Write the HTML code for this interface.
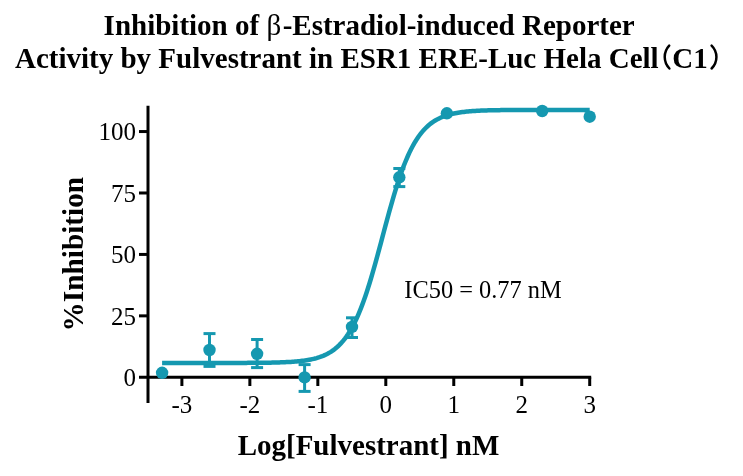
<!DOCTYPE html>
<html><head><meta charset="utf-8"><style>
html,body{margin:0;padding:0;background:#fff;width:743px;height:476px;overflow:hidden}
svg{display:block;will-change:transform}
text{font-family:"Liberation Serif",serif}
</style></head><body>
<svg width="743" height="476" viewBox="0 0 743 476">
<g stroke="#000" stroke-width="3" fill="none">
<line x1="148" y1="105.8" x2="148" y2="403"/>
<line x1="139" y1="377.3" x2="591.2" y2="377.3"/>
<line x1="139" y1="315.86" x2="148" y2="315.86"/>
<line x1="139" y1="254.43" x2="148" y2="254.43"/>
<line x1="139" y1="192.99" x2="148" y2="192.99"/>
<line x1="139" y1="131.55" x2="148" y2="131.55"/>
<line x1="181.89" y1="377.3" x2="181.89" y2="386"/>
<line x1="249.86" y1="377.3" x2="249.86" y2="386"/>
<line x1="317.83" y1="377.3" x2="317.83" y2="386"/>
<line x1="385.80" y1="377.3" x2="385.80" y2="386"/>
<line x1="453.77" y1="377.3" x2="453.77" y2="386"/>
<line x1="521.74" y1="377.3" x2="521.74" y2="386"/>
<line x1="589.71" y1="377.3" x2="589.71" y2="386"/>
</g>
<g font-family="Liberation Serif" font-size="25" fill="#000">
<text x="136" y="386.20" text-anchor="end">0</text>
<text x="136" y="324.76" text-anchor="end">25</text>
<text x="136" y="263.32" text-anchor="end">50</text>
<text x="136" y="201.89" text-anchor="end">75</text>
<text x="136" y="140.45" text-anchor="end">100</text>
<text x="181.89" y="412.8" text-anchor="middle">-3</text>
<text x="249.86" y="412.8" text-anchor="middle">-2</text>
<text x="317.83" y="412.8" text-anchor="middle">-1</text>
<text x="385.80" y="412.8" text-anchor="middle">0</text>
<text x="453.77" y="412.8" text-anchor="middle">1</text>
<text x="521.74" y="412.8" text-anchor="middle">2</text>
<text x="589.71" y="412.8" text-anchor="middle">3</text>
</g>
<polyline points="162.10,362.96 163.53,362.96 164.96,362.96 166.39,362.96 167.82,362.96 169.25,362.96 170.68,362.96 172.11,362.96 173.54,362.96 174.97,362.96 176.40,362.96 177.83,362.96 179.26,362.96 180.69,362.96 182.12,362.96 183.55,362.96 184.98,362.96 186.41,362.96 187.84,362.96 189.27,362.95 190.70,362.95 192.13,362.95 193.56,362.95 194.99,362.95 196.42,362.95 197.85,362.95 199.28,362.95 200.71,362.95 202.14,362.95 203.57,362.95 205.00,362.95 206.43,362.95 207.86,362.95 209.29,362.95 210.72,362.95 212.15,362.95 213.58,362.95 215.01,362.95 216.44,362.94 217.87,362.94 219.30,362.94 220.73,362.94 222.16,362.94 223.59,362.94 225.02,362.94 226.45,362.93 227.88,362.93 229.31,362.93 230.74,362.93 232.17,362.92 233.61,362.92 235.04,362.92 236.47,362.91 237.90,362.91 239.33,362.91 240.76,362.90 242.19,362.90 243.62,362.89 245.05,362.89 246.48,362.88 247.91,362.87 249.34,362.87 250.77,362.86 252.20,362.85 253.63,362.84 255.06,362.83 256.49,362.82 257.92,362.80 259.35,362.79 260.78,362.78 262.21,362.76 263.64,362.74 265.07,362.72 266.50,362.70 267.93,362.68 269.36,362.66 270.79,362.63 272.22,362.60 273.65,362.57 275.08,362.53 276.51,362.50 277.94,362.46 279.37,362.41 280.80,362.36 282.23,362.31 283.66,362.25 285.09,362.19 286.52,362.12 287.95,362.05 289.38,361.97 290.81,361.88 292.24,361.79 293.67,361.69 295.10,361.57 296.53,361.45 297.96,361.32 299.39,361.17 300.82,361.02 302.25,360.85 303.68,360.66 305.11,360.46 306.54,360.24 307.97,360.00 309.40,359.74 310.83,359.46 312.26,359.15 313.69,358.82 315.12,358.46 316.55,358.07 317.98,357.64 319.41,357.18 320.84,356.68 322.27,356.14 323.70,355.56 325.13,354.92 326.56,354.23 327.99,353.48 329.42,352.68 330.85,351.81 332.28,350.86 333.71,349.85 335.14,348.75 336.57,347.56 338.00,346.29 339.43,344.91 340.86,343.43 342.29,341.85 343.72,340.14 345.15,338.31 346.58,336.36 348.01,334.26 349.44,332.03 350.87,329.64 352.30,327.11 353.73,324.41 355.16,321.55 356.59,318.52 358.02,315.31 359.45,311.94 360.88,308.39 362.31,304.66 363.74,300.76 365.17,296.68 366.60,292.44 368.03,288.03 369.46,283.47 370.89,278.76 372.32,273.92 373.75,268.95 375.18,263.88 376.62,258.71 378.05,253.46 379.48,248.15 380.91,242.80 382.34,237.42 383.77,232.04 385.20,226.68 386.63,221.35 388.06,216.08 389.49,210.88 390.92,205.77 392.35,200.76 393.78,195.87 395.21,191.11 396.64,186.49 398.07,182.03 399.50,177.72 400.93,173.58 402.36,169.62 403.79,165.82 405.22,162.21 406.65,158.77 408.08,155.50 409.51,152.41 410.94,149.48 412.37,146.73 413.80,144.13 415.23,141.69 416.66,139.40 418.09,137.26 419.52,135.25 420.95,133.37 422.38,131.62 423.81,129.99 425.24,128.48 426.67,127.06 428.10,125.75 429.53,124.53 430.96,123.40 432.39,122.36 433.82,121.39 435.25,120.49 436.68,119.66 438.11,118.89 439.54,118.18 440.97,117.53 442.40,116.92 443.83,116.36 445.26,115.85 446.69,115.37 448.12,114.94 449.55,114.53 450.98,114.16 452.41,113.82 453.84,113.50 455.27,113.21 456.70,112.95 458.13,112.70 459.56,112.47 460.99,112.27 462.42,112.07 463.85,111.90 465.28,111.74 466.71,111.59 468.14,111.45 469.57,111.32 471.00,111.21 472.43,111.10 473.86,111.00 475.29,110.91 476.72,110.83 478.15,110.76 479.58,110.69 481.01,110.62 482.44,110.56 483.87,110.51 485.30,110.46 486.73,110.41 488.16,110.37 489.59,110.33 491.02,110.30 492.45,110.26 493.88,110.23 495.31,110.21 496.74,110.18 498.17,110.16 499.60,110.14 501.03,110.12 502.46,110.10 503.89,110.08 505.32,110.07 506.75,110.05 508.18,110.04 509.61,110.03 511.04,110.02 512.47,110.01 513.90,110.00 515.33,109.99 516.76,109.98 518.19,109.98 519.63,109.97 521.06,109.96 522.49,109.96 523.92,109.95 525.35,109.95 526.78,109.94 528.21,109.94 529.64,109.94 531.07,109.93 532.50,109.93 533.93,109.93 535.36,109.92 536.79,109.92 538.22,109.92 539.65,109.92 541.08,109.92 542.51,109.91 543.94,109.91 545.37,109.91 546.80,109.91 548.23,109.91 549.66,109.91 551.09,109.91 552.52,109.91 553.95,109.91 555.38,109.90 556.81,109.90 558.24,109.90 559.67,109.90 561.10,109.90 562.53,109.90 563.96,109.90 565.39,109.90 566.82,109.90 568.25,109.90 569.68,109.90 571.11,109.90 572.54,109.90 573.97,109.90 575.40,109.90 576.83,109.90 578.26,109.90 579.69,109.90 581.12,109.90 582.55,109.90 583.98,109.90 585.41,109.90 586.84,109.90 588.27,109.90 589.70,109.90" fill="none" stroke="#1598b0" stroke-width="4.5"/>
<g stroke="#1598b0" stroke-width="3" fill="none">
<line x1="209.50" y1="333.60" x2="209.50" y2="366.40"/>
<line x1="203.50" y1="333.60" x2="215.50" y2="333.60"/>
<line x1="203.50" y1="366.40" x2="215.50" y2="366.40"/>
<line x1="257.10" y1="339.50" x2="257.10" y2="367.60"/>
<line x1="251.10" y1="339.50" x2="263.10" y2="339.50"/>
<line x1="251.10" y1="367.60" x2="263.10" y2="367.60"/>
<line x1="304.60" y1="364.60" x2="304.60" y2="391.40"/>
<line x1="298.60" y1="364.60" x2="310.60" y2="364.60"/>
<line x1="298.60" y1="391.40" x2="310.60" y2="391.40"/>
<line x1="352.00" y1="317.80" x2="352.00" y2="337.50"/>
<line x1="346.00" y1="317.80" x2="358.00" y2="317.80"/>
<line x1="346.00" y1="337.50" x2="358.00" y2="337.50"/>
<line x1="399.30" y1="168.50" x2="399.30" y2="186.60"/>
<line x1="393.30" y1="168.50" x2="405.30" y2="168.50"/>
<line x1="393.30" y1="186.60" x2="405.30" y2="186.60"/>
</g>
<g fill="#1598b0">
<circle cx="162.10" cy="372.80" r="6.2"/>
<circle cx="209.50" cy="350.00" r="6.2"/>
<circle cx="257.10" cy="353.80" r="6.2"/>
<circle cx="304.60" cy="377.40" r="6.2"/>
<circle cx="352.00" cy="326.90" r="6.2"/>
<circle cx="399.30" cy="177.30" r="6.2"/>
<circle cx="446.90" cy="113.30" r="6.2"/>
<circle cx="542.20" cy="111.00" r="6.2"/>
<circle cx="589.70" cy="116.70" r="6.2"/>
</g>
<text x="404.3" y="297.6" font-family="Liberation Serif" font-size="24.4">IC50 = 0.77 nM</text>
<text transform="translate(368.5,455.2) scale(1,1.05)" text-anchor="middle" font-family="Liberation Serif" font-weight="bold" font-size="29">Log[Fulvestrant] nM</text>
<text transform="translate(83.3,254.2) rotate(-90)" text-anchor="middle" font-family="Liberation Serif" font-weight="bold" font-size="29.3">%Inhibition</text>
<g font-family="Liberation Serif" font-weight="bold" font-size="29" fill="#000">
<text x="103.6" y="34.8">Inhibition of <tspan font-weight="normal">β</tspan><tspan dx="1.5">-Estradiol-induced Reporter</tspan></text>
<text x="15" y="67.9">Activity by Fulvestrant in ESR1 ERE-Luc Hela Cell</text>
<text x="672.3" y="67.9">C1</text>
</g>
<g fill="none" stroke="#000" stroke-width="2.5" stroke-linecap="round">
<path d="M669.2,45.6 A16.6,16.6 0 0 0 669.4,68.5"/>
<path d="M711.6,45.6 A16,16 0 0 1 711.6,68.5"/>
</g>
</svg>
</body></html>
